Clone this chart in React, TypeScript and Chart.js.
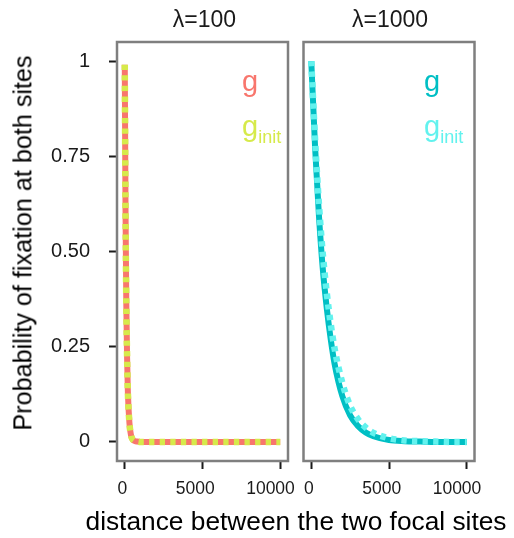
import React, { useEffect, useRef, useState } from "react";
import { Chart, registerables } from "chart.js";

Chart.register(...registerables);

// ---- data ----
const X_TICKS = [0, 5000, 10000];
const Y_TICKS = [0, 0.25, 0.5, 0.75, 1];
const Y_TICK_LABELS = ["0", "0.25", "0.50", "0.75", "1"];
const PANEL_TITLES = ["λ=100", "λ=1000"];
const SERIES_NAMES = ["g", "init"];

// λ = 100
const DIST_L100 = [0, 50, 100, 150, 200, 300, 400, 500, 600, 800, 1000, 2000, 3000, 4000, 5000, 6000, 7000, 8000, 9000, 10000];
const G_L100 = [0.99, 0.6, 0.36, 0.22, 0.13, 0.05, 0.018, 0.007, 0.003, 0.001, 0, 0, 0, 0, 0, 0, 0, 0, 0, 0];
const GINIT_L100 = [0.99, 0.6, 0.36, 0.22, 0.13, 0.05, 0.018, 0.007, 0.003, 0.001, 0, 0, 0, 0, 0, 0, 0, 0, 0, 0];

// λ = 1000
const DIST_L1000 = [0, 250, 500, 750, 1000, 1250, 1500, 2000, 2500, 3000, 3500, 4000, 5000, 6000, 7000, 8000, 9000, 10000];
const G_L1000 = [1, 0.77, 0.59, 0.45, 0.35, 0.27, 0.205, 0.12, 0.07, 0.042, 0.025, 0.015, 0.005, 0.002, 0.001, 0, 0, 0];
const GINIT_L1000 = [1, 0.79, 0.62, 0.49, 0.39, 0.31, 0.245, 0.155, 0.095, 0.06, 0.038, 0.024, 0.01, 0.004, 0.002, 0.001, 0, 0];

const COL_G_L = "#F8766D";
const COL_GI_L = "#D6EA4A";
const COL_G_R = "#00BFC4";
const COL_GI_R = "#62F2EE";

const FONT = "'Liberation Sans', Arial, Helvetica, sans-serif";
const W = 514;
const H = 538;

const boxPlugin = {
  id: "panelBox",
  afterDraw(chart: any) {
    const { ctx, chartArea: a } = chart;
    ctx.save();
    ctx.strokeStyle = "#7F7F7F";
    ctx.lineWidth = 2.5;
    ctx.strokeRect(a.left, a.top, a.right - a.left, a.bottom - a.top);
    ctx.restore();
  },
};

function pts(xs: number[], ys: number[]) {
  return xs.map((x, i) => ({ x, y: ys[i] }));
}

// trailing spaces shift centred x labels left, like the reference's off-centre labels
function xLabel(v: number) {
  const s = String(v);
  const pad = s.length >= 5 ? 4 : s.length >= 4 ? 3 : 1;
  return s + " ".repeat(pad);
}

function makeChart(
  canvas: HTMLCanvasElement,
  left: number,
  right: number,
  showY: boolean,
  xs: number[],
  g: number[],
  gi: number[],
  colG: string,
  colGi: string
) {
  const tickGrid = () => ({
    display: true,
    drawOnChartArea: false,
    drawTicks: true,
    tickLength: 8,
    tickWidth: 2,
    tickColor: "#1a1a1a",
  });
  return new Chart(canvas, {
    type: "line",
    data: {
      datasets: [
        {
          label: "g_init",
          data: pts(xs, gi),
          borderColor: colGi,
          borderWidth: 6.5,
          borderDash: [5.3, 5.3],
          pointRadius: 0,
          cubicInterpolationMode: "monotone",
          fill: false,
        },
        {
          label: "g",
          data: pts(xs, g),
          borderColor: colG,
          borderWidth: 6,
          pointRadius: 0,
          cubicInterpolationMode: "monotone",
          fill: false,
        },
      ],
    },
    options: {
      responsive: false,
      maintainAspectRatio: false,
      animation: false,
      events: [],
      layout: {
        padding: { left: 0, top: 42, right: W - right, bottom: 0 },
      },
      plugins: {
        legend: { display: false },
        tooltip: { enabled: false },
        title: { display: false },
      },
      scales: {
        x: {
          type: "linear",
          min: -500,
          max: 10500,
          afterBuildTicks: (s: any) => {
            s.ticks = X_TICKS.map((v) => ({ value: v }));
          },
          afterFit: (s: any) => {
            s.height = H - 461;
          },
          ticks: {
            autoSkip: false,
            maxRotation: 0,
            minRotation: 0,
            padding: 10,
            color: "#1a1a1a",
            font: { family: FONT, size: 17.5 },
            callback: (v: any) => xLabel(Number(v)),
          },
          grid: tickGrid(),
          border: { display: false },
        },
        y: {
          type: "linear",
          display: true,
          min: -0.05,
          max: 1.05,
          afterBuildTicks: (s: any) => {
            s.ticks = Y_TICKS.map((v) => ({ value: v }));
          },
          afterFit: (s: any) => {
            s.width = left;
          },
          ticks: {
            display: showY,
            autoSkip: false,
            padding: 19,
            color: "#1a1a1a",
            font: { family: FONT, size: 20 },
            callback: (v: any) => {
              const i = Y_TICKS.indexOf(Number(v));
              return i >= 0 ? Y_TICK_LABELS[i] : "";
            },
          },
          grid: showY ? tickGrid() : { display: false },
          border: { display: false },
        },
      },
    },
    plugins: [boxPlugin],
  } as any);
}

const abs = (style: React.CSSProperties): React.CSSProperties => ({
  position: "absolute",
  whiteSpace: "nowrap",
  fontFamily: FONT,
  margin: 0,
  ...style,
});

function Legend({ left, colG, colGi }: { left: number; colG: string; colGi: string }) {
  return (
    <>
      <div style={abs({ left, top: 66.5, fontSize: 29, lineHeight: "29px", color: colG })}>{SERIES_NAMES[0]}</div>
      <div style={abs({ left, top: 111.5, fontSize: 29, lineHeight: "29px", color: colGi })}>
        {SERIES_NAMES[0]}
        <span style={{ fontSize: 18, position: "relative", top: 7 }}>{SERIES_NAMES[1]}</span>
      </div>
    </>
  );
}

export default function App() {
  const c1 = useRef<HTMLCanvasElement>(null);
  const c2 = useRef<HTMLCanvasElement>(null);
  const [err, setErr] = useState("");

  useEffect(() => {
    const charts: Chart[] = [];
    try {
      charts.push(makeChart(c1.current!, 117, 288, true, DIST_L100, G_L100, GINIT_L100, COL_G_L, COL_GI_L));
    } catch (e: any) {
      setErr("c1: " + String(e && e.message));
    }
    try {
      charts.push(makeChart(c2.current!, 303.5, 474.5, false, DIST_L1000, G_L1000, GINIT_L1000, COL_G_R, COL_GI_R));
    } catch (e: any) {
      setErr((p) => p + " c2: " + String(e && e.message));
    }
    return () => {
      charts.forEach((c) => c.destroy());
    };
  }, []);

  const canvasStyle: React.CSSProperties = { position: "absolute", left: 0, top: 0, width: W, height: H };

  return (
    <div style={{ position: "absolute", left: 0, top: 0, width: W, height: H, background: "#fff", overflow: "hidden" }}>
      <canvas ref={c1} width={W} height={H} style={canvasStyle} />
      <canvas ref={c2} width={W} height={H} style={canvasStyle} />
      <div style={abs({ left: 204.5, top: 7.5, fontSize: 23, lineHeight: "23px", color: "#1a1a1a", transform: "translateX(-50%)" })}>
        {PANEL_TITLES[0]}
      </div>
      <div style={abs({ left: 390, top: 7.5, fontSize: 23, lineHeight: "23px", color: "#1a1a1a", transform: "translateX(-50%)" })}>
        {PANEL_TITLES[1]}
      </div>
      <Legend left={242} colG={COL_G_L} colGi={COL_GI_L} />
      <Legend left={424} colG={COL_G_R} colGi={COL_GI_R} />
      <div
        style={abs({
          left: 23,
          top: 242.5,
          fontSize: 25.2,
          lineHeight: "25.2px",
          color: "#000",
          transform: "translate(-50%, -50%) rotate(-90deg)",
        })}
      >
        Probability of fixation at both sites
      </div>
      <div style={abs({ left: 296, top: 508, fontSize: 26.3, lineHeight: "26.3px", color: "#000", transform: "translateX(-50%)" })}>
        distance between the two focal sites
      </div>
      {err ? <div style={abs({ left: 0, top: 0, fontSize: 10, color: "red" })}>{err}</div> : null}
    </div>
  );
}
